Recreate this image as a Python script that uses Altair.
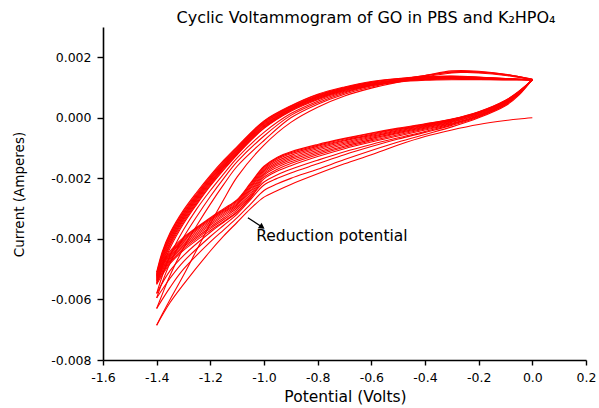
import altair as alt
import pandas as pd

# Potential steps (V) of the cathodic sweep (0 V -> -1.4 V) and the anodic sweep (-1.4 V -> 0 V)
cathodic_v = [0.0, -0.05, -0.1, -0.2, -0.3, -0.4, -0.5, -0.6, -0.7, -0.8,
              -0.9, -0.95, -1.0, -1.05, -1.1, -1.15, -1.2, -1.3, -1.35, -1.4]
anodic_v = [-1.4, -1.38, -1.35, -1.3, -1.25, -1.2, -1.15, -1.1, -1.0, -0.9,
            -0.8, -0.7, -0.6, -0.5, -0.4, -0.3, -0.2, -0.1, 0.0]

# Current (mA) of every cathodic sweep, cycle 1 first
cathodic_ma = [
    [0.00, -0.04, -0.09, -0.22, -0.40, -0.62, -0.90, -1.22, -1.52, -1.85, -2.20, -2.40, -2.62, -3.00, -3.45, -3.90, -4.40, -5.50, -6.10, -6.85],
    [1.28, 0.75, 0.40, 0.00, -0.30, -0.55, -0.80, -1.08, -1.38, -1.70, -2.00, -2.18, -2.40, -2.85, -3.30, -3.70, -4.10, -5.00, -5.60, -6.30],
    [1.27, 0.78, 0.43, 0.03, -0.25, -0.48, -0.70, -0.95, -1.22, -1.52, -1.82, -2.00, -2.22, -2.70, -3.18, -3.55, -3.92, -4.75, -5.30, -5.95],
    [1.26, 0.79, 0.44, 0.05, -0.22, -0.45, -0.66, -0.88, -1.12, -1.40, -1.70, -1.88, -2.12, -2.62, -3.12, -3.45, -3.78, -4.55, -5.05, -5.80],
    [1.25, 0.80, 0.46, 0.06, -0.20, -0.40, -0.60, -0.80, -1.02, -1.28, -1.58, -1.76, -2.02, -2.65, -3.10, -3.42, -3.72, -4.38, -4.82, -5.50],
    [1.26, 0.81, 0.48, 0.08, -0.18, -0.37, -0.56, -0.76, -0.97, -1.22, -1.51, -1.70, -1.96, -2.58, -3.04, -3.36, -3.66, -4.33, -4.77, -5.45],
    [1.26, 0.82, 0.50, 0.10, -0.15, -0.34, -0.52, -0.72, -0.93, -1.17, -1.45, -1.63, -1.90, -2.52, -2.98, -3.30, -3.61, -4.27, -4.72, -5.40],
    [1.26, 0.83, 0.51, 0.12, -0.13, -0.31, -0.49, -0.68, -0.88, -1.12, -1.39, -1.57, -1.85, -2.45, -2.93, -3.24, -3.55, -4.22, -4.67, -5.35],
    [1.26, 0.84, 0.53, 0.14, -0.11, -0.29, -0.46, -0.64, -0.84, -1.07, -1.34, -1.52, -1.80, -2.40, -2.88, -3.19, -3.50, -4.17, -4.62, -5.31],
    [1.26, 0.85, 0.54, 0.15, -0.09, -0.27, -0.43, -0.61, -0.80, -1.02, -1.29, -1.47, -1.75, -2.34, -2.84, -3.14, -3.45, -4.12, -4.58, -5.27],
    [1.25, 0.86, 0.55, 0.17, -0.07, -0.25, -0.40, -0.58, -0.76, -0.98, -1.24, -1.42, -1.71, -2.29, -2.80, -3.10, -3.40, -4.07, -4.53, -5.23],
    [1.25, 0.86, 0.56, 0.18, -0.06, -0.23, -0.38, -0.55, -0.73, -0.94, -1.19, -1.37, -1.67, -2.24, -2.76, -3.06, -3.36, -4.03, -4.49, -5.19],
    [1.25, 0.87, 0.57, 0.19, -0.05, -0.21, -0.36, -0.52, -0.70, -0.91, -1.15, -1.33, -1.63, -2.19, -2.73, -3.03, -3.33, -3.99, -4.45, -5.15],
    [1.25, 0.88, 0.58, 0.20, -0.04, -0.20, -0.34, -0.50, -0.68, -0.88, -1.12, -1.30, -1.60, -2.15, -2.70, -3.00, -3.30, -3.95, -4.40, -5.10],
]

# Current (mA) of every anodic sweep, cycle 1 first
anodic_ma = [
    [-6.85, -6.50, -6.00, -5.20, -4.35, -3.50, -2.70, -1.95, -0.90, -0.15, 0.35, 0.72, 0.98, 1.18, 1.35, 1.48, 1.50, 1.42, 1.28],
    [-6.30, -5.85, -5.20, -4.30, -3.55, -2.85, -2.20, -1.60, -0.75, 0.00, 0.45, 0.78, 1.02, 1.22, 1.38, 1.52, 1.52, 1.43, 1.27],
    [-5.95, -5.45, -4.80, -3.95, -3.25, -2.60, -2.00, -1.45, -0.60, 0.08, 0.50, 0.82, 1.06, 1.25, 1.40, 1.55, 1.54, 1.44, 1.26],
    [-5.80, -5.25, -4.55, -3.70, -3.00, -2.40, -1.85, -1.32, -0.48, 0.14, 0.55, 0.85, 1.08, 1.26, 1.40, 1.50, 1.48, 1.40, 1.25],
    [-5.50, -4.95, -4.30, -3.50, -2.85, -2.25, -1.72, -1.22, -0.35, 0.22, 0.60, 0.88, 1.06, 1.18, 1.24, 1.26, 1.26, 1.25, 1.26],
    [-5.45, -4.88, -4.22, -3.44, -2.80, -2.21, -1.68, -1.19, -0.33, 0.24, 0.62, 0.90, 1.08, 1.20, 1.26, 1.28, 1.27, 1.26, 1.26],
    [-5.40, -4.82, -4.16, -3.38, -2.75, -2.17, -1.64, -1.16, -0.30, 0.26, 0.64, 0.91, 1.09, 1.21, 1.27, 1.29, 1.28, 1.27, 1.26],
    [-5.35, -4.76, -4.10, -3.33, -2.70, -2.13, -1.61, -1.13, -0.27, 0.28, 0.66, 0.93, 1.11, 1.22, 1.28, 1.30, 1.29, 1.27, 1.26],
    [-5.31, -4.70, -4.04, -3.28, -2.66, -2.09, -1.58, -1.10, -0.24, 0.30, 0.68, 0.94, 1.12, 1.23, 1.29, 1.31, 1.30, 1.28, 1.26],
    [-5.27, -4.65, -3.99, -3.24, -2.62, -2.05, -1.55, -1.07, -0.21, 0.32, 0.70, 0.96, 1.14, 1.25, 1.31, 1.33, 1.31, 1.28, 1.25],
    [-5.23, -4.60, -3.94, -3.19, -2.58, -2.02, -1.51, -1.04, -0.18, 0.34, 0.72, 0.97, 1.15, 1.26, 1.32, 1.34, 1.32, 1.29, 1.25],
    [-5.19, -4.55, -3.89, -3.15, -2.54, -1.98, -1.48, -1.01, -0.15, 0.36, 0.74, 0.99, 1.17, 1.28, 1.34, 1.35, 1.33, 1.29, 1.25],
    [-5.15, -4.50, -3.84, -3.10, -2.50, -1.94, -1.44, -0.98, -0.12, 0.38, 0.76, 1.00, 1.18, 1.29, 1.35, 1.37, 1.34, 1.30, 1.25],
    [-5.10, -4.45, -3.80, -3.05, -2.45, -1.90, -1.40, -0.95, -0.10, 0.40, 0.78, 1.02, 1.20, 1.30, 1.36, 1.38, 1.35, 1.30, 1.25],
]

# Annotation: label anchor and arrow (tail -> head)
note_text = ["Reduction potential"]
note_v = [-1.029]
note_i = [-0.00407]
arrow_v = [-1.060, -1.007]
arrow_i = [-0.00330, -0.00361]

title_text = ["Cyclic Voltammogram of GO in PBS and K\u2082HPO\u2084"]

# one row per measured point; each half-cycle is its own path so the turning points stay sharp
rows = []
for k, (cv_c, cv_a) in enumerate(zip(cathodic_ma, anodic_ma), start=1):
    for step, (v, i) in enumerate(zip(cathodic_v, cv_c)):
        rows.append({"sweep": f"{k}-cathodic", "step": step, "potential": v, "current": i / 1000})
    for step, (v, i) in enumerate(zip(anodic_v, cv_a)):
        rows.append({"sweep": f"{k}-anodic", "step": step, "potential": v, "current": i / 1000})
cv = pd.DataFrame(rows)

FONT = "DejaVu Sans"
x_ticks = [round(-1.6 + 0.1 * n, 1) for n in range(19)]
y_ticks = [round(-0.008 + 0.001 * n, 3) for n in range(12)]

x_scale = alt.Scale(domain=[-1.6, 0.2], nice=False, zero=False)
y_scale = alt.Scale(domain=[-0.008, 0.003], nice=False, zero=False)

x_axis = alt.Axis(
    values=x_ticks,
    labelExpr="abs(round(datum.value*10)) % 2 == 0 ? replace(format(datum.value, '.1f'), '\u2212', '-') : ''",
    tickSize={"condition": {"test": "abs(round(datum.value*10)) % 2 == 0", "value": 5}, "value": 2.5},
    grid=False, domainColor="black", domainWidth=1.6, tickColor="black", tickWidth=1.4,
    labelFont=FONT, labelFontSize=12.5, labelColor="black", labelPadding=6,
    title="Potential (Volts)", titleFont=FONT, titleFontSize=15.5, titleFontWeight="normal",
    titleColor="black", titleX=242, titleY=41, titleBaseline="alphabetic", titleAlign="center",
    labelFlush=False, labelOverlap=False,
)
y_axis = alt.Axis(
    values=y_ticks,
    labelExpr="abs(round(datum.value*1000)) % 2 == 0 ? replace(format(datum.value, '.3f'), '\u2212', '-') : ''",
    tickSize={"condition": {"test": "abs(round(datum.value*1000)) % 2 == 0", "value": 6}, "value": 3},
    grid=False, domainColor="black", domainWidth=1.6, tickColor="black", tickWidth=1.4,
    labelFont=FONT, labelFontSize=12.5, labelColor="black", labelPadding=6,
    title="Current (Amperes)", titleFont=FONT, titleFontSize=13.5, titleFontWeight="normal",
    titleColor="black", titleAngle=-90, titleX=-84, titleY=167, titleBaseline="middle",
    titleAlign="center", labelFlush=False, labelOverlap=False,
)

curves = alt.Chart(cv).mark_line(
    color="#ff0000", strokeWidth=1.1, interpolate="catmull-rom"
).encode(
    x=alt.X("potential:Q", scale=x_scale, axis=x_axis),
    y=alt.Y("current:Q", scale=y_scale, axis=y_axis),
    detail="sweep:N",
    order="step:Q",
)

note = alt.Chart(pd.DataFrame({"text": note_text, "v": note_v, "i": note_i})).mark_text(
    font=FONT, fontSize=15.5, color="black", align="left", baseline="alphabetic"
).encode(
    x=alt.X("v:Q", scale=x_scale), y=alt.Y("i:Q", scale=y_scale), text="text:N"
)

arrow_df = pd.DataFrame({"v": [arrow_v[0]], "i": [arrow_i[0]], "v2": [arrow_v[1]], "i2": [arrow_i[1]]})
arrow_line = alt.Chart(arrow_df).mark_rule(color="black", strokeWidth=1.2).encode(
    x=alt.X("v:Q", scale=x_scale), y=alt.Y("i:Q", scale=y_scale), x2="v2:Q", y2="i2:Q"
)
arrow_head = alt.Chart(pd.DataFrame({"v": [arrow_v[1]], "i": [arrow_i[1]]})).mark_point(
    shape="triangle-right", size=45, filled=True, color="black", opacity=1, angle=34
).encode(
    x=alt.X("v:Q", scale=x_scale), y=alt.Y("i:Q", scale=y_scale)
)

# chart heading, set just above the plot frame
heading = alt.Chart(pd.DataFrame({"text": title_text})).mark_text(
    font=FONT, fontSize=16, color="black", align="center", baseline="alphabetic"
).encode(
    x=alt.value(263), y=alt.value(-4), text="text:N"
)

chart = alt.layer(curves, arrow_line, arrow_head, note, heading).properties(
    width=483,
    height=333,
    autosize=alt.AutoSizeParams(type="none"),
    padding={"left": 103, "top": 27, "right": 13, "bottom": 48},
    background="white",
).configure_view(stroke=None)

chart.save("out.html", embed_options={"renderer": "svg", "actions": False})
